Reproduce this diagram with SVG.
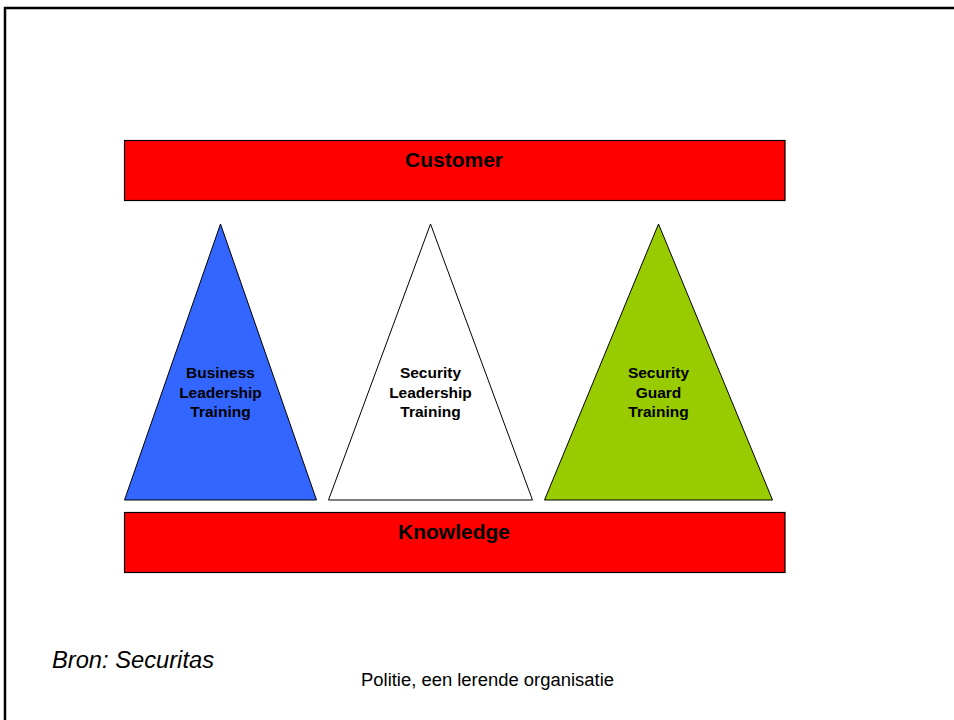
<svg xmlns="http://www.w3.org/2000/svg" width="954" height="720" viewBox="0 0 954 720">
<style>
.bar{fill:#ff0000;stroke:#000;stroke-width:1.2}
.tri{stroke:#000;stroke-width:1}
.big{font-family:"Liberation Sans",Arial,sans-serif;font-weight:bold;font-size:21px;text-anchor:middle;fill:#000}
.lbl{font-family:"Liberation Sans",Arial,sans-serif;font-weight:bold;font-size:15.5px;text-anchor:middle;fill:#000}
</style>
<rect x="0" y="0" width="954" height="720" fill="#fff"/>
<path d="M5 720 V8 H954" fill="none" stroke="#000" stroke-width="2.5"/>
<g id="customer">
<rect class="bar" x="124.5" y="140.5" width="660.5" height="60"/>
<text class="big" x="454" y="167">Customer</text>
</g>
<g id="business-leadership-training">
<polygon class="tri" fill="#3366ff" points="220.5,224 124.5,500 316.5,500"/>
<text class="lbl" x="220.5" y="378">Business</text>
<text class="lbl" x="220.5" y="397.5">Leadership</text>
<text class="lbl" x="220.5" y="417">Training</text>
</g>
<g id="security-leadership-training">
<polygon class="tri" fill="#ffffff" points="430.5,224 328.5,500 532.5,500"/>
<text class="lbl" x="430.5" y="378">Security</text>
<text class="lbl" x="430.5" y="397.5">Leadership</text>
<text class="lbl" x="430.5" y="417">Training</text>
</g>
<g id="security-guard-training">
<polygon class="tri" fill="#99cc00" points="658.5,224 544.5,500 772.5,500"/>
<text class="lbl" x="658.5" y="378">Security</text>
<text class="lbl" x="658.5" y="397.5">Guard</text>
<text class="lbl" x="658.5" y="417">Training</text>
</g>
<g id="knowledge">
<rect class="bar" x="124.5" y="512.5" width="660.5" height="60"/>
<text class="big" x="454" y="539">Knowledge</text>
</g>
<g id="connectors"></g>
<text x="52" y="668" font-family="'Liberation Sans',Arial,sans-serif" font-style="italic" font-size="23px" textLength="162" lengthAdjust="spacingAndGlyphs" fill="#000">Bron: Securitas</text>
<text x="361" y="686" font-family="'Liberation Sans',Arial,sans-serif" font-size="18px" textLength="253" lengthAdjust="spacingAndGlyphs" fill="#000">Politie, een lerende organisatie</text>
</svg>
